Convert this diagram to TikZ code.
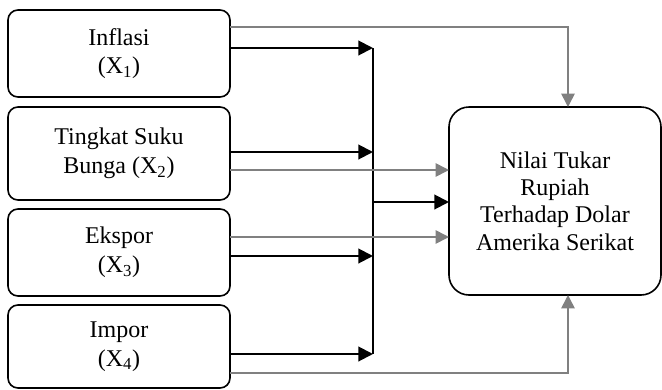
\documentclass[tikz,border=0pt]{standalone}
\usepackage{fontspec}
\setmainfont{Liberation Serif}
\usetikzlibrary{positioning,arrows.meta}

\begin{document}
\begin{tikzpicture}[x=0.75pt, y=-0.75pt,
        var/.style={draw, rounded corners=7.5pt, line width=1.2pt, outer sep=0pt, minimum width=166.5pt, align=center, font=\fontsize{18}{21.5}\selectfont},
        hasil/.style={draw, rounded corners=15pt, line width=1.2pt, outer sep=0pt, minimum width=159pt, minimum height=141pt, align=center, font=\fontsize{18}{20.5}\selectfont},
        blk/.style={line width=1.5pt, -{Triangle[length=11pt, width=11pt]}},
        gry/.style={draw=gray, line width=1.2pt, -{Triangle[length=10pt, width=10pt]}}
    ]
        \useasboundingbox (0,0) rectangle (662,390);

        % Variabel bebas
        \node [var, minimum height=65.25pt] (infl) at (119,53.5) {Inflasi\\(X\textsubscript{1})};
        \node [var, minimum height=69.75pt, below=7.5pt of infl] (bunga) {Tingkat Suku\\Bunga (X\textsubscript{2})};
        \node [var, minimum height=65.25pt, below=6.75pt of bunga] (ekspor) {Ekspor\\(X\textsubscript{3})};
        \node [var, minimum height=62.25pt, below=6.75pt of ekspor] (impor) {Impor\\(X\textsubscript{4})};

        % Variabel terikat
        \node [hasil] (nilai) at (555,201) {Nilai Tukar\\Rupiah\\Terhadap Dolar\\Amerika Serikat};

        % Simultan
        \coordinate (bus1) at (373,48);
        \coordinate (bus2) at (373,152);
        \coordinate (bus3) at (373,256);
        \coordinate (bus4) at (373,354);
        \coordinate (busout) at (373,202);

        \draw [blk] (infl.east |- bus1) -- (bus1);
        \draw [blk] (bunga.east |- bus2) -- (bus2);
        \draw [blk] (ekspor.east |- bus3) -- (bus3);
        \draw [blk] (impor.east |- bus4) -- (bus4);
        \draw [line width=1.5pt] (bus1) -- (bus4);
        \draw [blk] (busout) -- (nilai.west |- busout);

        % Parsial
        \coordinate (atas) at (568,27);
        \coordinate (bawah) at (568,373);
        \coordinate (g2) at (0,170);
        \coordinate (g3) at (0,237);

        \draw [gry] (infl.east |- atas) -- (atas) -- (nilai.north -| atas);
        \draw [gry] (bunga.east |- g2) -- (nilai.west |- g2);
        \draw [gry] (ekspor.east |- g3) -- (nilai.west |- g3);
        \draw [gry] (impor.east |- bawah) -- (bawah) -- (nilai.south -| atas);
    \end{tikzpicture}
\end{document}
